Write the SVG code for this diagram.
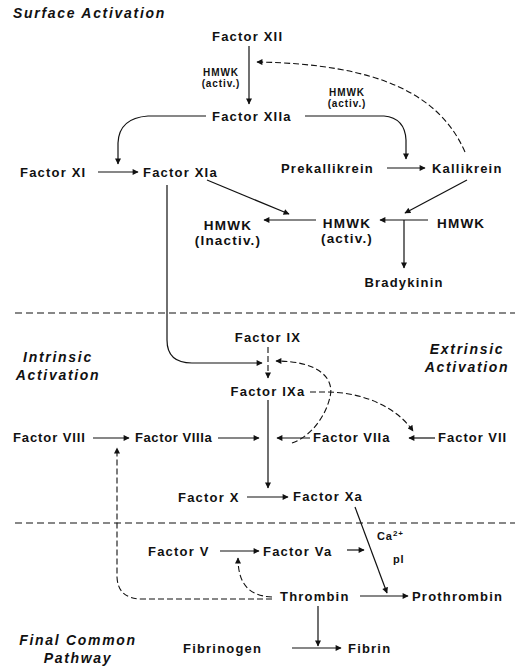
<svg xmlns="http://www.w3.org/2000/svg" width="520" height="670" viewBox="0 0 520 670">
<defs>
<style>
text{font-family:"Liberation Sans",Arial,sans-serif;fill:#111;}
.n{font-size:13px;font-weight:bold;letter-spacing:1.2px;}
.h{font-size:13.5px;font-weight:bold;letter-spacing:1.2px;}
.s{font-size:10px;font-weight:bold;letter-spacing:0.9px;}
.t{font-size:14px;font-weight:bold;font-style:italic;letter-spacing:1.7px;}
.c{text-anchor:middle;}
.l{fill:none;stroke:#111;stroke-width:1.2;}
.d{fill:none;stroke:#111;stroke-width:1.1;stroke-dasharray:6 3;}
.sep{fill:none;stroke:#111;stroke-width:1.2;stroke-dasharray:7 4;}
</style>
<marker id="a" viewBox="0 0 10 10" refX="9" refY="5" markerWidth="7" markerHeight="6" markerUnits="userSpaceOnUse" orient="auto">
<path d="M0,0 L10,5 L0,10 z" fill="#111"/>
</marker>
</defs>
<rect width="520" height="670" fill="#fff"/>

<g id="labels">
<text class="t" x="13" y="18">Surface Activation</text>
<text class="t c" x="58" y="362">Intrinsic</text>
<text class="t c" x="58" y="380">Activation</text>
<text class="t c" x="467" y="354">Extrinsic</text>
<text class="t c" x="467" y="372">Activation</text>
<text class="t c" x="78" y="645">Final Common</text>
<text class="t c" x="78" y="663">Pathway</text>
</g>

<g id="connectors">
<path class="sep" d="M15 313 H515"/>
<path class="sep" d="M15 523 H515"/>
<path class="l" d="M249 46 V104" marker-end="url(#a)"/>
<path class="d" d="M465 152 C440 95 380 64 257 62" marker-end="url(#a)"/>
<path class="l" d="M206 116 H148 Q119 118 118 143 V164" marker-end="url(#a)"/>
<path class="l" d="M305 116 H384 Q405 118 406 140 V159" marker-end="url(#a)"/>
<path class="l" d="M98 172 H138" marker-end="url(#a)"/>
<path class="l" d="M387 168 H425" marker-end="url(#a)"/>
<path class="l" d="M467 180 L405 213" marker-end="url(#a)"/>
<path class="l" d="M207 180 L289 214" marker-end="url(#a)"/>
<path class="l" d="M428 220 H380" marker-end="url(#a)"/>
<path class="l" d="M316 220 H264" marker-end="url(#a)"/>
<path class="l" d="M404 220 V268" marker-end="url(#a)"/>
<path class="l" d="M167 185 V340 Q167 363 192 363 H262" marker-end="url(#a)"/>
<path class="d" d="M268 347 V378" marker-end="url(#a)"/>
<path class="d" d="M292 443 C312 436 326 415 330 397 C335 378 318 361 276 361" marker-end="url(#a)"/>
<path class="d" d="M310 392 H326 C360 392 395 405 413 431" marker-end="url(#a)"/>
<path class="l" d="M435 438 H409" marker-end="url(#a)"/>
<path class="l" d="M310 438 H277" marker-end="url(#a)"/>
<path class="l" d="M93 438 H129" marker-end="url(#a)"/>
<path class="l" d="M218 438 H259" marker-end="url(#a)"/>
<path class="l" d="M268 400 V488" marker-end="url(#a)"/>
<path class="l" d="M247 497 H288" marker-end="url(#a)"/>
<path class="d" d="M272 599 H142 Q118 599 117 577 V448" marker-end="url(#a)"/>
<path class="l" d="M220 551 H259" marker-end="url(#a)"/>
<path class="d" d="M272 597 C250 596 238 585 238 558" marker-end="url(#a)"/>
<path class="l" d="M347 550 H364" marker-end="url(#a)"/>
<path class="l" d="M355 507 L387 593" marker-end="url(#a)"/>
<path class="l" d="M360 596 H408" marker-end="url(#a)"/>
<path class="l" d="M318 606 V646" marker-end="url(#a)"/>
<path class="l" d="M292 648 H341" marker-end="url(#a)"/>
</g>

<g id="factor-xii"><text class="n" x="212" y="41">Factor XII</text></g>
<g id="hmwk-label-1"><text class="s c" x="221" y="76">HMWK</text><text class="s c" x="221" y="87">(activ.)</text></g>
<g id="hmwk-label-2"><text class="s c" x="347" y="96">HMWK</text><text class="s c" x="347" y="107">(activ.)</text></g>
<g id="factor-xiia"><text class="n" x="212" y="121">Factor XIIa</text></g>
<g id="factor-xi"><text class="n" x="20" y="177">Factor XI</text></g>
<g id="factor-xia"><text class="n" x="143" y="177">Factor XIa</text></g>
<g id="prekallikrein"><text class="n" x="281" y="173">Prekallikrein</text></g>
<g id="kallikrein"><text class="n" x="432" y="173">Kallikrein</text></g>
<g id="hmwk"><text class="h" x="437" y="228">HMWK</text></g>
<g id="hmwk-activ"><text class="h c" x="347" y="228">HMWK</text><text class="h c" x="347" y="243">(activ.)</text></g>
<g id="hmwk-inactiv"><text class="h c" x="228" y="230">HMWK</text><text class="h c" x="228" y="245">(Inactiv.)</text></g>
<g id="bradykinin"><text class="n c" x="404" y="287">Bradykinin</text></g>
<g id="factor-ix"><text class="n c" x="268" y="342">Factor IX</text></g>
<g id="factor-ixa"><text class="n c" x="268" y="396">Factor IXa</text></g>
<g id="factor-viii"><text class="n" x="13" y="442" style="letter-spacing:0.9px">Factor VIII</text></g>
<g id="factor-viiia"><text class="n" x="135" y="442" style="letter-spacing:0.6px">Factor VIIIa</text></g>
<g id="factor-viia"><text class="n" x="313" y="442" style="letter-spacing:1px">Factor VIIa</text></g>
<g id="factor-vii"><text class="n" x="438" y="442" style="letter-spacing:1px">Factor VII</text></g>
<g id="factor-x"><text class="n" x="178" y="502">Factor X</text></g>
<g id="factor-xa"><text class="n" x="293" y="501">Factor Xa</text></g>
<g id="factor-v"><text class="n" x="148" y="556">Factor V</text></g>
<g id="factor-va"><text class="n" x="263" y="556">Factor Va</text></g>
<g id="cofactors"><text class="s" x="377" y="540" style="font-size:11px">Ca<tspan dy="-4" style="font-size:8px">2+</tspan></text><text class="s" x="393" y="563" style="font-size:11px">pl</text></g>
<g id="thrombin"><text class="n" x="280" y="601">Thrombin</text></g>
<g id="prothrombin"><text class="n" x="412" y="601">Prothrombin</text></g>
<g id="fibrinogen"><text class="n" x="183" y="653">Fibrinogen</text></g>
<g id="fibrin"><text class="n" x="348" y="653">Fibrin</text></g>
</svg>
